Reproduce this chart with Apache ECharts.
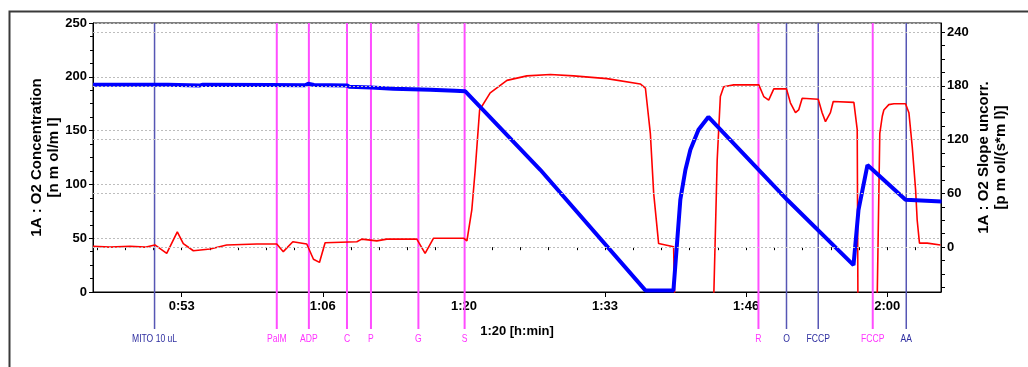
<!DOCTYPE html>
<html>
<head>
<meta charset="utf-8">
<title>O2 Concentration / Slope</title>
<script src="https://cdn.jsdelivr.net/npm/echarts@6/dist/echarts.min.js"></script>
<style>
	html, body { margin: 0; padding: 0; background: #fff; }
	#chart { width: 1028px; height: 367px; }
</style>
</head>
<body>
<div id="chart"></div>
<script>
	// 时间 (s) —— 氧浓度 (左轴, nmol/ml)
	const o2Time = [2697, 3122, 3130, 3304, 3320, 3700, 3900, 3917, 3950, 4138, 4150, 4274, 4400, 4609, 4750, 4808, 5233, 5829, 5988, 6027, 6056, 6084, 6130, 6186, 6633, 7009, 7037, 7088, 7304, 7508];
	const o2Conc = [192.7, 192.7, 192, 192, 192.6, 192.4, 192.2, 193.5, 192.4, 192, 190.8, 190, 189, 188, 187, 186.5, 113.6, 1.5, 1.5, 85.7, 113.6, 132.2, 150.8, 162.7, 85.7, 25, 76, 118, 85.7, 84];

	// 时间 (s) —— 氧消耗斜率 (右轴, pmol/(s*ml)), 低于坐标下限的点用 -60
	const slopeTime = [2697, 2793, 2907, 2992, 3048, 3115, 3175, 3209, 3266, 3361, 3455, 3626, 3739, 3776, 3830, 3909, 3947, 3981, 4013, 4193, 4221, 4306, 4363, 4533, 4580, 4628, 4798, 4817, 4845, 4864, 4889, 4949, 5044, 5157, 5290, 5422, 5611, 5800, 5829, 5857, 5876, 5904, 5989, 5995, 6216, 6236, 6254, 6273, 6330, 6472, 6500, 6528, 6557, 6629, 6651, 6680, 6698, 6718, 6809, 6831, 6850, 6878, 6894, 7011, 7020, 7030, 7034, 7143, 7158, 7172, 7181, 7209, 7238, 7304, 7323, 7342, 7361, 7370, 7383, 7427, 7502];
	const slopeValue = [1, 0, 1, 0, 2.5, -7, 17, 4, -4, -2, 2.5, 3.5, 3.5, -5, 6, 3.5, -13.5, -17, 5, 6, 9, 7, 9, 9, -7, 10, 10, 7, 42, 86, 153, 172, 186, 191, 192.5, 191, 188, 182, 177.5, 127, 60, 4, 0.5, -60, -60, 97, 168, 179, 181, 181, 168, 164, 176.5, 176.5, 161, 150, 153, 166, 165, 150, 140, 150, 162.5, 161.5, 161, 131, -60, -60, 127, 146, 153, 159, 160, 160, 150, 112, 64, 30, 4.5, 4.5, 2.5];

	// 事件标记
	const eventTime = [3046, 3739, 3921, 4137, 4273, 4542, 4804, 6470, 6629, 6809, 7118, 7308];
	const eventLabel = ["MITO 10 uL", "PalM", "ADP", "C", "P", "G", "S", "R", "O", "FCCP", "FCCP", "AA"];
	const eventChannel = [2, 1, 1, 1, 1, 1, 1, 1, 2, 2, 1, 2];

	// 坐标轴刻度
	const xLabelTimes = [3200, 4000, 4800, 5600, 6400, 7200];
	const xMinorTimes = [2720, 2880, 3040, 3200, 3360, 3520, 3680, 3840, 4000, 4160, 4320, 4480, 4640, 4800, 4960, 5120, 5280, 5440, 5600, 5760, 5920, 6080, 6240, 6400, 6560, 6720, 6880, 7040, 7200, 7360];
	const slopeLabels = [0, 60, 120, 180, 240];
	const slopeTicks = [-45, -30, -15, 0, 15, 30, 45, 60, 75, 90, 105, 120, 135, 150, 165, 180, 195, 210, 225, 240];

	const chart = echarts.init(document.getElementById("chart"), null, { renderer: "canvas" });

	const tickFont = { color: "#000", fontSize: 13, fontWeight: "bold", fontFamily: "'Liberation Sans', Arial, sans-serif" };
	const nameFont = { color: "#000", fontSize: 15, fontWeight: "bold", fontFamily: "'Liberation Sans', Arial, sans-serif", lineHeight: 17 };
	const gridLine = { color: "#bdbdbd", width: 1, type: [2, 2] };

	// h:min 格式
	const fmtTime = (v) => {
		const h = Math.floor(v / 3600);
		const m = Math.floor((v % 3600) / 60);
		return h + ":" + (m < 10 ? "0" + m : m);
	};

	const eventColor = { 1: "#ff4dff", 2: "#5656b4" };
	const eventTextColor = { 1: "#ff33ff", 2: "#2e2ea0" };

	const option = {
		animation: false,
		backgroundColor: "#fff",
		graphic: [
			{
				type: "rect",
				left: 7,
				top: 9,
				shape: { width: 1100, height: 420 },
				style: { fill: "none", stroke: "#3a3a3a", lineWidth: 2 },
				silent: true,
				z: -1
			}
		],
		grid: {
			left: 93,
			right: 87,
			top: 23,
			bottom: 75,
			show: true,
			backgroundColor: "#fff",
			borderColor: "#000",
			borderWidth: 1
		},
		xAxis: [
			{
				type: "value",
				min: 2697,
				max: 7505,
				name: "1:20 [h:min]",
				nameLocation: "middle",
				nameGap: 33,
				nameMoveOverlap: false,
				nameTextStyle: tickFont,
				axisLine: { show: true, lineStyle: { color: "#000", width: 1 } },
				axisTick: { show: true, length: 5, customValues: xLabelTimes, lineStyle: { color: "#000" } },
				axisLabel: { ...tickFont, margin: 8, customValues: xLabelTimes, formatter: fmtTime },
				splitLine: { show: false }
			},
			{
				type: "value",
				min: 2697,
				max: 7505,
				position: "bottom",
				axisLine: { show: false },
				axisTick: { show: true, length: 3, customValues: xMinorTimes, lineStyle: { color: "#000" } },
				axisLabel: { show: false },
				splitLine: { show: false }
			}
		],
		yAxis: [
			{
				type: "value",
				min: 0,
				max: 250,
				interval: 50,
				position: "left",
				name: "1A : O2 Concentration\n[n m ol/m l]",
				nameLocation: "middle",
				nameGap: 31,
				nameMoveOverlap: false,
				nameTextStyle: nameFont,
				axisLine: { show: true, lineStyle: { color: "#000", width: 1 } },
				axisTick: { show: true, length: 4, lineStyle: { color: "#000" } },
				minorTick: { show: true, splitNumber: 4, length: 3, lineStyle: { color: "#000" } },
				axisLabel: { ...tickFont, margin: 6 },
				splitLine: { show: true, lineStyle: gridLine }
			},
			{
				type: "value",
				min: -50,
				max: 250,
				position: "right",
				name: "1A : O2 Slope uncorr.\n[p m ol/(s*m l)]",
				nameLocation: "middle",
				nameGap: 34,
				nameMoveOverlap: false,
				nameTextStyle: nameFont,
				axisLine: { show: true, lineStyle: { color: "#000", width: 1 } },
				axisTick: { show: true, length: 4, customValues: slopeTicks, lineStyle: { color: "#000" } },
				axisLabel: { ...tickFont, margin: 6, customValues: slopeLabels },
				splitLine: { show: false }
			}
		],
		series: [
			{
				// 事件竖线 + 下方标签
				name: "events",
				type: "custom",
				xAxisIndex: 0,
				yAxisIndex: 0,
				clip: false,
				silent: true,
				z: 1,
				data: eventTime.map((t, i) => [t, eventChannel[i], i]),
				renderItem: (params, api) => {
					const x = api.coord([api.value(0), 0])[0];
					const cs = params.coordSys;
					const ch = api.value(1);
					const bottom = cs.y + cs.height + 37;
					return {
						type: "group",
						children: [
							{
								type: "line",
								shape: { x1: x, y1: cs.y, x2: x, y2: bottom },
								style: { stroke: eventColor[ch], lineWidth: ch === 1 ? 2 : 1.5 }
							},
							{
								type: "text",
								x: x,
								y: bottom + 10,
								scaleX: 0.78,
								style: {
									text: eventLabel[api.value(2)],
									fill: eventTextColor[ch],
									font: "11px 'Liberation Sans', Arial, sans-serif",
									align: "center",
									verticalAlign: "middle"
								}
							}
						]
					};
				}
			},
			{
				name: "O2 Slope",
				type: "line",
				xAxisIndex: 0,
				yAxisIndex: 1,
				showSymbol: false,
				symbol: "none",
				clip: true,
				z: 3,
				lineStyle: { color: "#ff0000", width: 1.6 },
				data: slopeTime.map((t, i) => [t, slopeValue[i]]),
				markLine: {
					silent: true,
					symbol: "none",
					label: { show: false },
					lineStyle: gridLine,
					emphasis: { disabled: true },
					data: slopeLabels.map((v) => ({ yAxis: v }))
				}
			},
			{
				name: "O2 Concentration",
				type: "line",
				xAxisIndex: 0,
				yAxisIndex: 0,
				showSymbol: false,
				symbol: "none",
				z: 4,
				lineStyle: { color: "#0000ff", width: 4 },
				data: o2Time.map((t, i) => [t, o2Conc[i]])
			}
		]
	};

	chart.setOption(option);
</script>
</body>
</html>
